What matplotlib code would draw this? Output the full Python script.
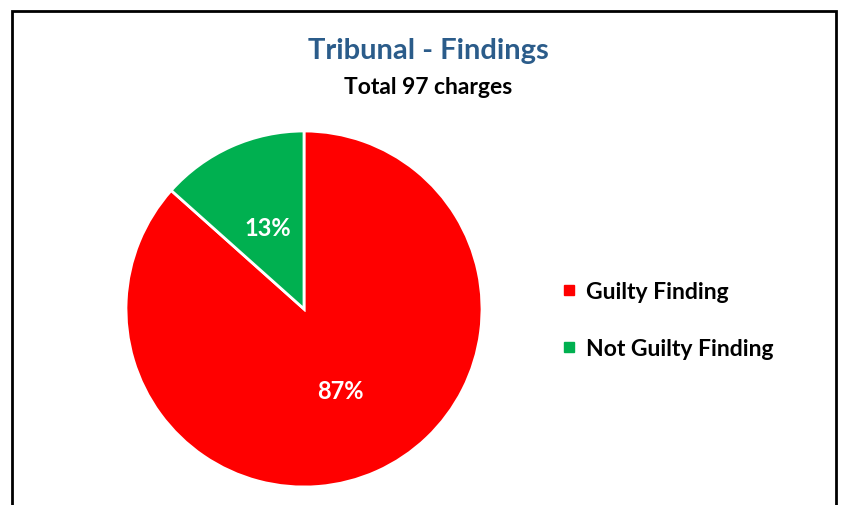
import matplotlib
matplotlib.use("Agg")
import matplotlib.pyplot as plt
from matplotlib.patches import Rectangle
from matplotlib.lines import Line2D

plt.rcParams['font.family'] = ['Lato', 'DejaVu Sans']

categories = ["Guilty Finding", "Not Guilty Finding"]
counts = [84, 13]
colors = ["#FF0000", "#00B050"]
title = "Tribunal - Findings"
subtitle = "Total 97 charges"

W, H = 846, 506
fig = plt.figure(figsize=(W / 100, H / 100), dpi=100)
fig.patch.set_facecolor("white")

# frame
fig.patches.append(Rectangle((12 / W, -0.05), (836 - 12) / W, (H - 12) / H + 0.05,
                             transform=fig.transFigure, fill=False,
                             edgecolor="black", linewidth=2))

cx, cy, r = 304, 310, 178
ax = fig.add_axes([(cx - r) / W, (H - cy - r) / H, 2 * r / W, 2 * r / H])
wedges, texts, autotexts = ax.pie(
    counts, colors=colors, startangle=90, counterclock=False,
    autopct='%.0f%%', pctdistance=0.5,
    wedgeprops=dict(edgecolor="white", linewidth=2),
    textprops=dict(color="white", fontsize=17, fontweight="bold"))
ax.set_xlim(-1, 1)
ax.set_ylim(-1, 1)
ax.set_aspect("equal")
ax.axis("off")

fig.text(428 / W, 1 - 51 / H, title, ha="center", va="center",
         fontsize=21, fontweight="bold", color="#2B5C8A")
fig.text(428 / W, 1 - 87 / H, subtitle, ha="center", va="center",
         fontsize=16.5, fontweight="bold", color="black")

handles = [Line2D([], [], marker="s", linestyle="none", markersize=7,
                  markerfacecolor=c, markeredgecolor=c) for c in colors]
fig.legend(handles, categories, loc="center left",
           bbox_to_anchor=(541 / W, 1 - 321 / H), frameon=False,
           prop=dict(weight="bold", size=16.5),
           handlelength=0.6, handletextpad=0.45, labelspacing=1.55)

fig.savefig("out.png", dpi=100)
